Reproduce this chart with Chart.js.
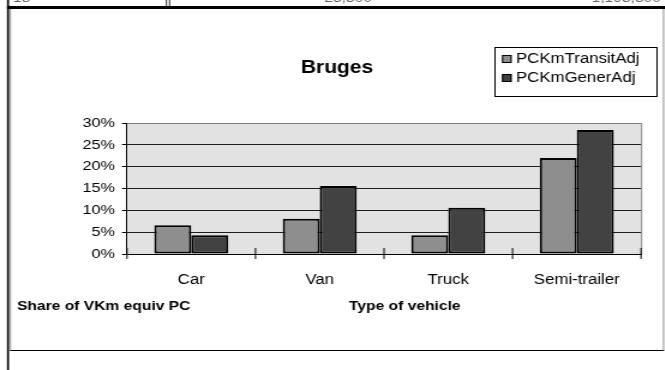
<!DOCTYPE html>
<html>
<head>
<meta charset="utf-8">
<script src="https://cdn.jsdelivr.net/npm/chart.js@4.4.1/dist/chart.umd.min.js"></script>
<style>
  html, body { margin: 0; padding: 0; background: #fff; overflow: hidden; }
  /* the sheet export is a bit wider than tall, so the canvas is stretched sideways */
  #wrap { width: 554px; height: 370px; transform: scaleX(1.2); transform-origin: 0 0; }
  #graphCanvas { display: block; }
</style>
</head>
<body>
<div id="wrap"><canvas id="graphCanvas" width="554" height="370"></canvas></div>
<script>
// categories and shares (%) per vehicle type
const vehicleTypes = ['Car', 'Van', 'Truck', 'Semi-trailer'];
const transitAdj = [6.6, 8.1, 4.3, 22.0];
const generAdj = [4.3, 15.6, 10.6, 28.4];
const seriesNames = ['PCKmTransitAdj', 'PCKmGenerAdj'];
const seriesColors = ['#8e8e8e', '#424242'];
const yTicks = [0, 5, 10, 15, 20, 25, 30];

const FONT = '"Liberation Sans", Arial, sans-serif';
const SX = 1.2;
const ux = (px) => px / SX;   // page x -> canvas x

// frame, title, legend and captions around the plot
const sheetDecor = {
  id: 'sheetDecor',
  beforeDraw(chart) {
    const ctx = chart.ctx;
    const a = chart.chartArea;
    ctx.save();
    ctx.fillStyle = '#fff';
    ctx.fillRect(0, 0, chart.width, chart.height);

    // bottom of the cell text in the row above
    ctx.fillStyle = '#666';
    ctx.font = '13px ' + FONT;
    ctx.textBaseline = 'alphabetic';
    ctx.textAlign = 'left';
    ctx.fillText('18', ux(13), 1.5);
    ctx.textAlign = 'right';
    ctx.fillText('25,300', ux(372), 1.5);
    ctx.fillText('1,193,300', ux(661), 1.5);

    // sheet lines
    ctx.fillStyle = '#000';
    ctx.fillRect(ux(7), 0, ux(2), 370);
    ctx.fillRect(ux(7), 6, chart.width, 3);
    ctx.fillRect(ux(166), 0, ux(1), 6);
    ctx.fillRect(ux(169), 0, ux(1), 6);

    // chart object border
    ctx.fillStyle = '#808080';
    ctx.fillRect(ux(10), 9, ux(1), 341);
    ctx.fillRect(ux(663), 9, ux(1), 341);
    ctx.fillStyle = '#000';
    ctx.fillRect(ux(10), 350, ux(654), 1);

    // plot background
    ctx.fillStyle = '#e2e2e2';
    ctx.fillRect(a.left, a.top, a.right - a.left, a.bottom - a.top);
    ctx.fillStyle = '#808080';
    ctx.fillRect(a.right, a.top, 1, a.bottom - a.top);
    ctx.fillRect(a.left, a.top, a.right - a.left, 1);

    // title
    ctx.fillStyle = '#000';
    ctx.font = 'bold 17.5px ' + FONT;
    ctx.textAlign = 'center';
    ctx.textBaseline = 'alphabetic';
    ctx.fillText('Bruges', ux(337), 73);

    // axis captions
    ctx.font = 'bold 13px ' + FONT;
    ctx.textAlign = 'left';
    ctx.fillText('Share of VKm equiv PC', ux(17), 310);
    ctx.fillText('Type of vehicle', ux(349), 310);

    // legend
    ctx.fillStyle = '#fff';
    ctx.fillRect(ux(495), 47, ux(162), 50);
    ctx.strokeStyle = '#000';
    ctx.lineWidth = 1;
    ctx.strokeRect(ux(495), 47.5, ux(162), 49);
    ctx.font = '14px ' + FONT;
    chart.data.datasets.forEach((ds, i) => {
      const base = 63 + i * 19;
      ctx.fillStyle = ds.backgroundColor;
      ctx.fillRect(ux(502), base - 8, 8, 8);
      ctx.strokeRect(ux(502) + 0.5, base - 7.5, 7, 7);
      ctx.fillStyle = '#000';
      ctx.fillText(ds.label, ux(516), base);
    });
    ctx.restore();
  },
  afterDraw(chart) {
    // tick marks crossing the category axis
    const ctx = chart.ctx;
    const a = chart.chartArea;
    const step = (a.right - a.left) / vehicleTypes.length;
    ctx.save();
    ctx.strokeStyle = '#000';
    ctx.lineWidth = 1;
    ctx.beginPath();
    for (let i = 0; i <= vehicleTypes.length; i++) {
      const px = a.left + i * step;
      ctx.moveTo(px, a.bottom - 6);
      ctx.lineTo(px, a.bottom + 5);
    }
    ctx.stroke();
    ctx.restore();
  }
};

const ctx = document.getElementById('graphCanvas').getContext('2d');
new Chart(ctx, {
  type: 'bar',
  data: {
    labels: vehicleTypes,
    datasets: [
      {
        label: seriesNames[0],
        data: transitAdj,
        backgroundColor: seriesColors[0],
        borderColor: '#000',
        borderWidth: 2,
        borderSkipped: false,
        categoryPercentage: 0.576,
        barPercentage: 1
      },
      {
        label: seriesNames[1],
        data: generAdj,
        backgroundColor: seriesColors[1],
        borderColor: '#000',
        borderWidth: 2,
        borderSkipped: false,
        categoryPercentage: 0.576,
        barPercentage: 1
      }
    ]
  },
  options: {
    responsive: false,
    animation: false,
    devicePixelRatio: 1,
    layout: { padding: { left: 0, right: 554 - ux(641), top: 123, bottom: 0 } },
    scales: {
      x: {
        offset: true,
        afterFit: (s) => { s.height = 116; },
        grid: { display: false },
        border: { display: true, color: '#000', width: 1 },
        ticks: { color: '#000', padding: 9.5, font: { family: FONT, size: 14 } }
      },
      y: {
        min: 0,
        max: 30,
        afterFit: (s) => { s.width = ux(127); },
        afterBuildTicks: (s) => { s.ticks = yTicks.map(v => ({ value: v })); },
        grid: {
          color: (c) => (c.tick && c.tick.value === 30 ? '#808080' : '#1e1e1e'),
          lineWidth: 1,
          tickLength: ux(5),
          tickColor: '#000'
        },
        border: { display: true, color: '#000', width: 1 },
        ticks: {
          color: '#000',
          padding: ux(7),
          font: { family: FONT, size: 13.5 },
          callback: (v) => v + '%'
        }
      }
    },
    plugins: {
      legend: { display: false },
      tooltip: { enabled: false }
    }
  },
  plugins: [sheetDecor]
});
</script>
</body>
</html>
